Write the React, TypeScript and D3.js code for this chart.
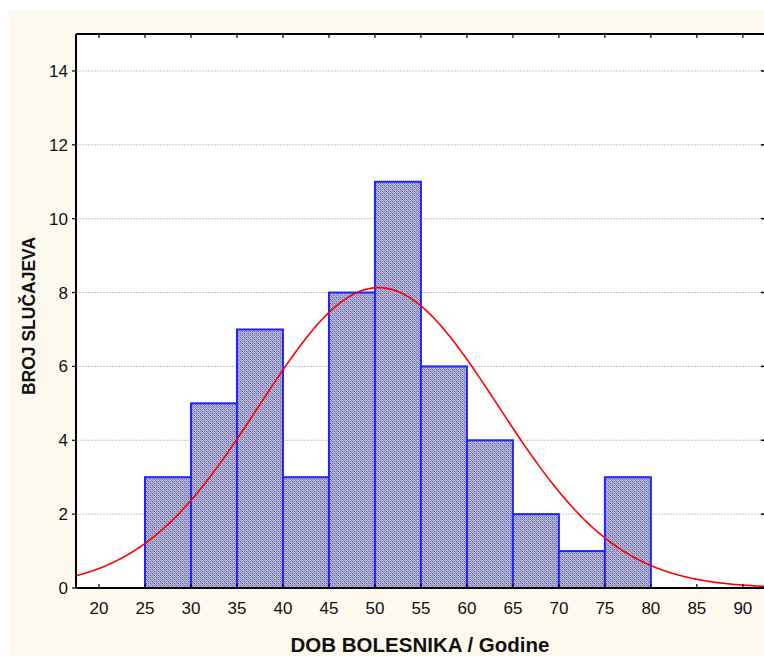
import React from "react";
import * as d3 from "d3";

const binStarts = [25, 30, 35, 40, 45, 50, 55, 60, 65, 70, 75];
const counts = [3, 5, 7, 3, 8, 11, 6, 4, 2, 1, 3];
const binWidth = 5;
const xTicks = [20, 25, 30, 35, 40, 45, 50, 55, 60, 65, 70, 75, 80, 85, 90];
const yTicks = [0, 2, 4, 6, 8, 10, 12, 14];
const fitMean = 50.4;
const fitSd = 13;

const W = 764;
const H = 660;
const left = 76;
const right = 764;
const top = 34;
const bottom = 588;

export default function App() {
  const x = d3.scaleLinear().domain([17.5, 92.3]).range([left, right]);
  const y = d3.scaleLinear().domain([0, 15]).range([bottom, top]);
  const n = d3.sum(counts);
  const pdf = (v: number) =>
    (n * binWidth) / (fitSd * Math.sqrt(2 * Math.PI)) *
    Math.exp(-0.5 * ((v - fitMean) / fitSd) ** 2);
  const xs = d3.range(17.5, 92.4, 0.2);
  const line = d3
    .line<number>()
    .x((d) => x(d))
    .y((d) => y(pdf(d)))
    .curve(d3.curveMonotoneX);
  const font = "Arial, 'Liberation Sans', sans-serif";
  return (
    <svg
      width={W}
      height={H}
      style={{ position: "absolute", left: 0, top: 0, fontFamily: font }}
    >
      <defs>
        <pattern id="hatch" width="4" height="4" patternUnits="userSpaceOnUse">
          <rect width="4" height="4" fill="#e6e6f4" />
          <path d="M-1,1 L1,-1 M0,4 L4,0 M3,5 L5,3" stroke="#8484bc" strokeWidth="1.3" />
          <path d="M-1,3 L3,-1 M1,5 L5,1" stroke="#000058" strokeWidth="1" strokeDasharray="1 1" />
        </pattern>
        <clipPath id="plotclip">
          <rect x={left} y={top} width={right - left} height={bottom - top} />
        </clipPath>
      </defs>
      <rect x={9} y={10} width={W - 9} height={H - 14} fill="#fdf9ef" />
      <rect x={left} y={top} width={right - left} height={bottom - top} fill="#ffffff" />
      {yTicks
        .filter((t) => t > 0)
        .map((t) => (
          <line
            key={"g" + t}
            x1={left}
            x2={right - 3}
            y1={y(t)}
            y2={y(t)}
            stroke="#c4c4c4"
            strokeWidth={1}
            strokeDasharray="2 1"
          />
        ))}
      {binStarts.map((s, i) => (
        <rect
          key={"b" + s}
          x={x(s)}
          y={y(counts[i])}
          width={x(s + binWidth) - x(s)}
          height={y(0) - y(counts[i])}
          fill="url(#hatch)"
          stroke="#2222ff"
          strokeWidth={2}
        />
      ))}
      <path
        d={line(xs) || ""}
        fill="none"
        stroke="#ff0000"
        strokeWidth={1.6}
        clipPath="url(#plotclip)"
      />
      <line x1={left} x2={right} y1={top} y2={top} stroke="#000" strokeWidth={2} />
      <line x1={left} x2={right} y1={bottom} y2={bottom} stroke="#000" strokeWidth={2} />
      <line x1={left} x2={left} y1={top} y2={bottom} stroke="#000" strokeWidth={2} />
      {xTicks.map((t) => (
        <g key={"x" + t}>
          <line x1={x(t)} x2={x(t)} y1={bottom} y2={bottom - 4} stroke="#000" strokeWidth={1.2} />
          <line x1={x(t)} x2={x(t)} y1={top} y2={top + 4} stroke="#000" strokeWidth={1.2} />
          <text x={x(t)} y={bottom + 26} textAnchor="middle" fontSize={17} fill="#111">
            {t}
          </text>
        </g>
      ))}
      {yTicks.map((t) => (
        <g key={"y" + t}>
          <line x1={left} x2={left - 4} y1={y(t)} y2={y(t)} stroke="#000" strokeWidth={1.2} />
          <line x1={right} x2={right - 3} y1={y(t)} y2={y(t)} stroke="#000" strokeWidth={1.5} />
          <text x={left - 8} y={y(t) + 6} textAnchor="end" fontSize={17} fill="#111">
            {t}
          </text>
        </g>
      ))}
      <text
        x={420}
        y={652}
        textAnchor="middle"
        fontSize={20.5}
        fontWeight="bold"
        fill="#111"
      >
        DOB BOLESNIKA / Godine
      </text>
      <text
        transform={`translate(35,316) rotate(-90)`}
        textAnchor="middle"
        fontSize={17.5}
        fontWeight="bold"
        fill="#111"
      >
        BROJ SLUČAJEVA
      </text>
    </svg>
  );
}
